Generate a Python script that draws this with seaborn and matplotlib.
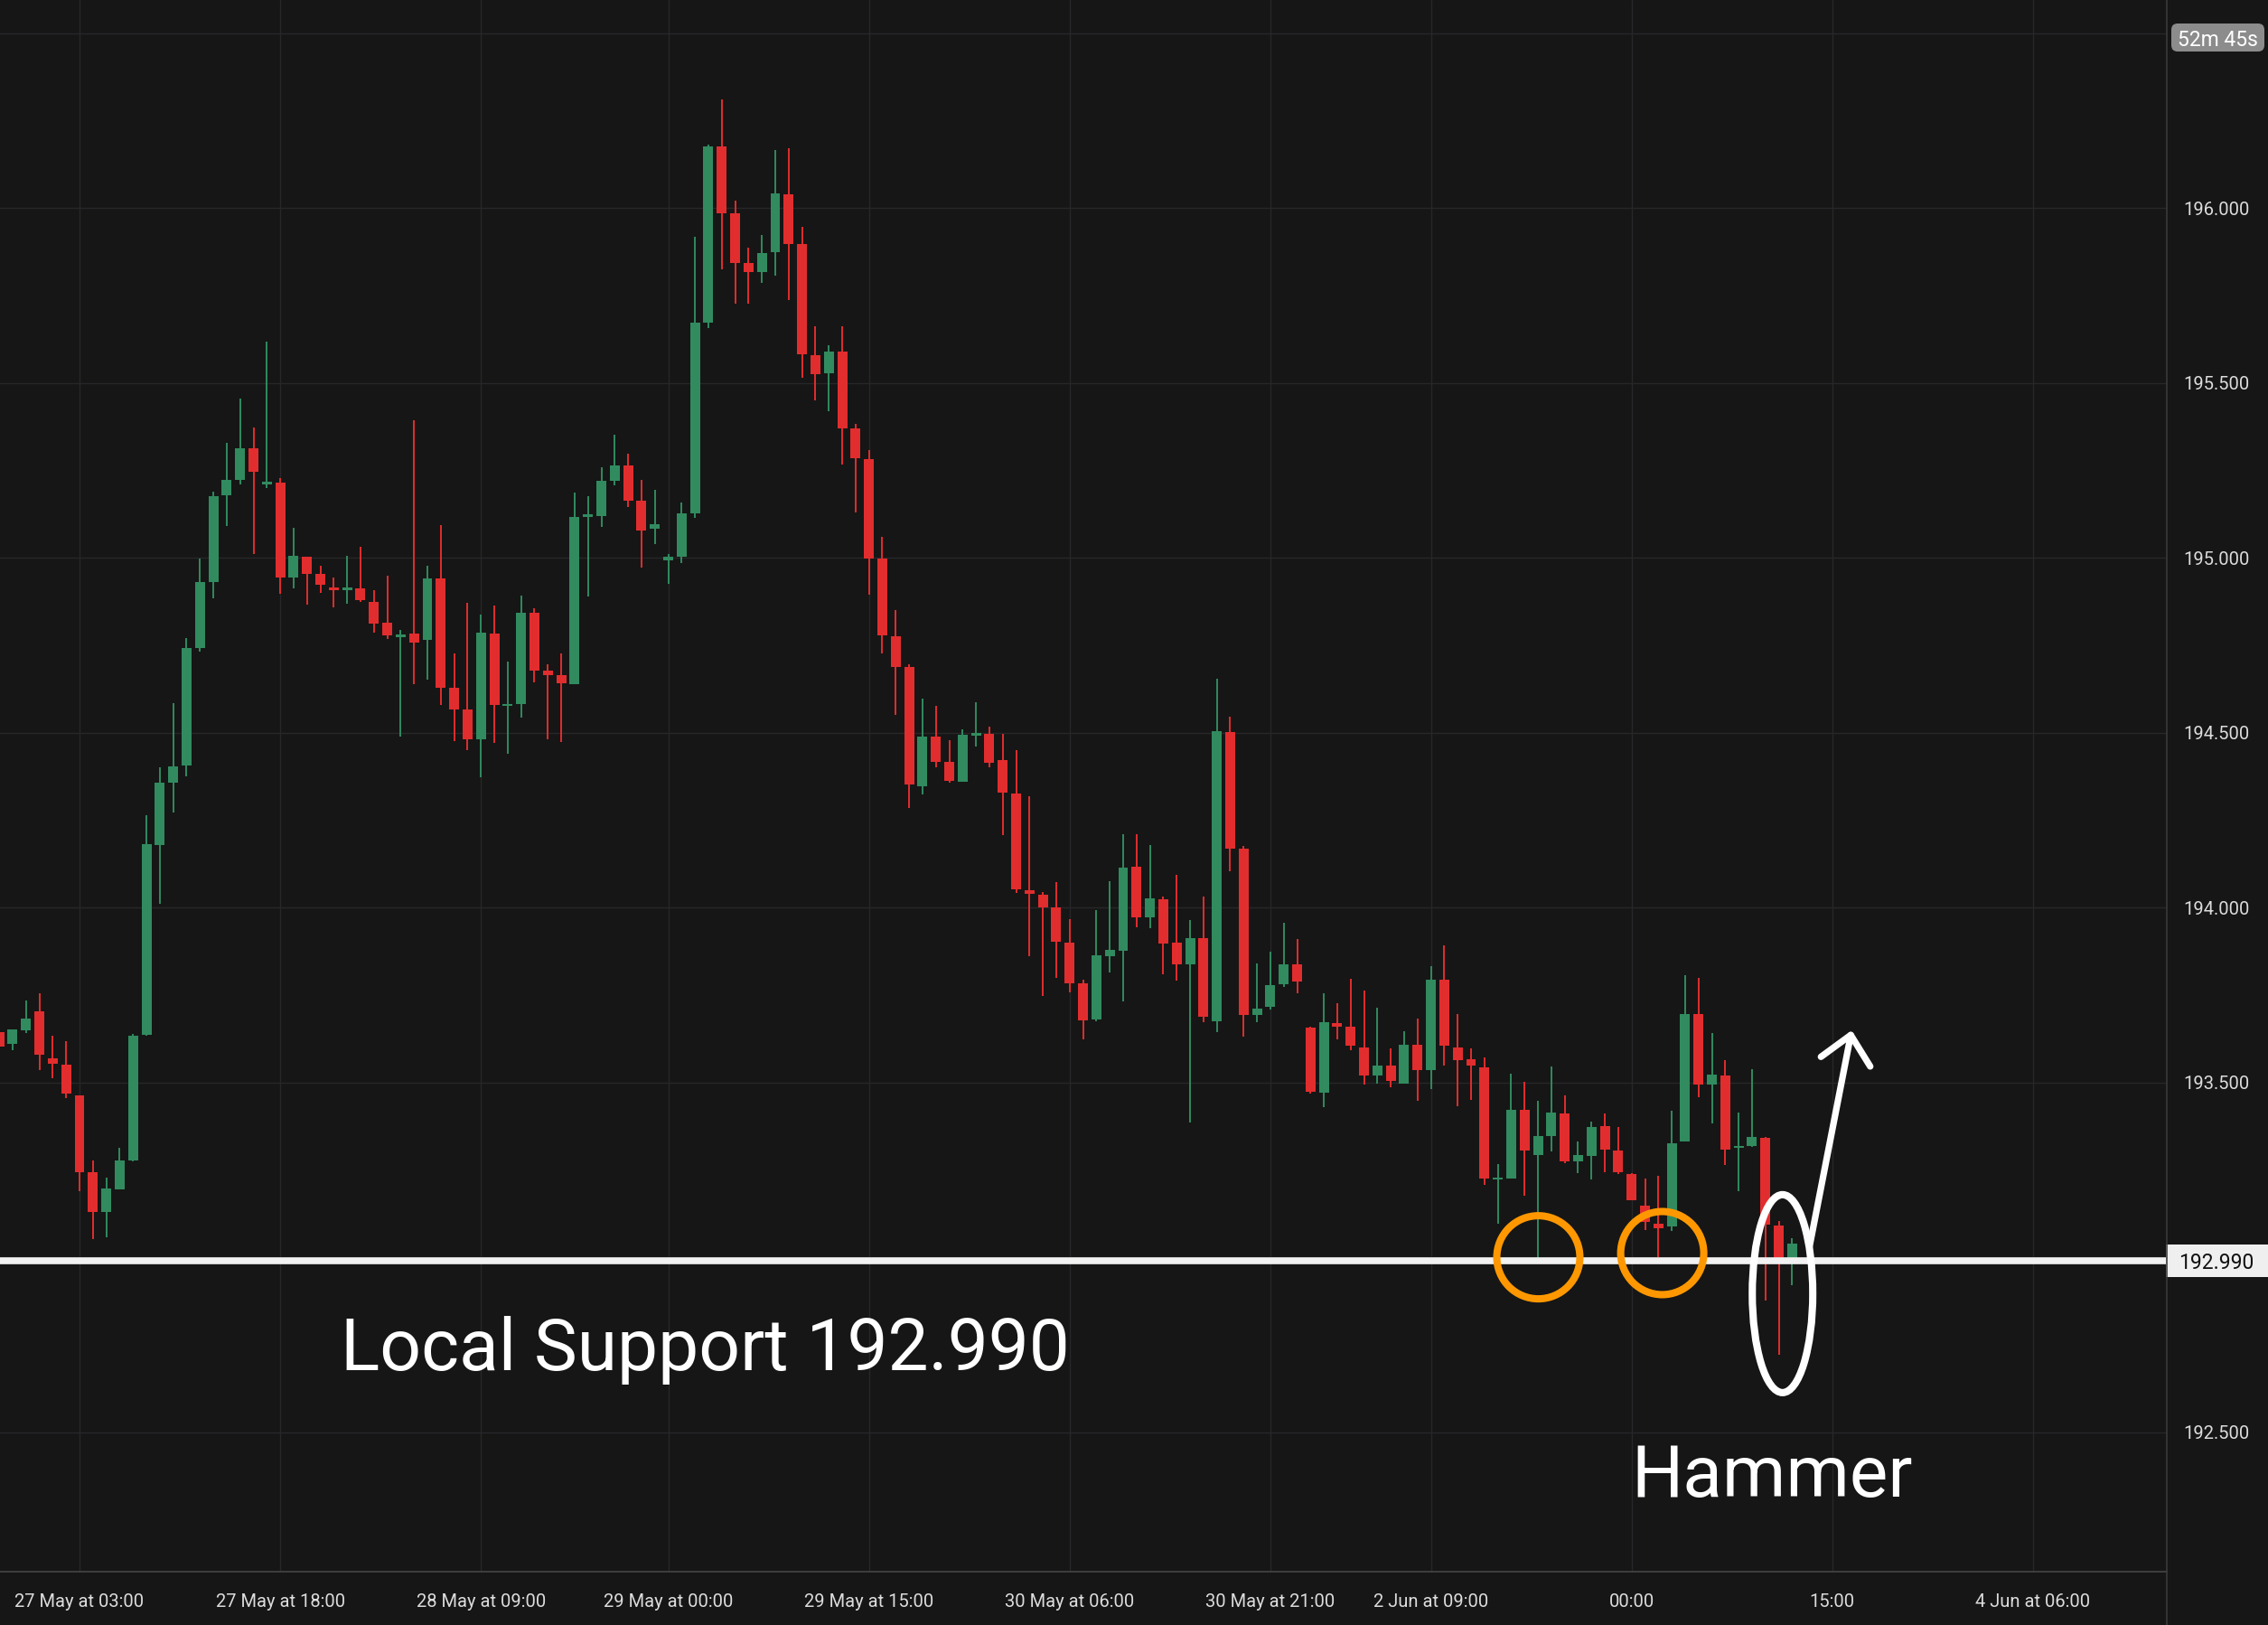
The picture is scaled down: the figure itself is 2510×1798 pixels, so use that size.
import numpy as np
import pandas as pd
import matplotlib.pyplot as plt
import matplotlib.transforms as mtransforms
import seaborn as sns
from matplotlib.patches import Ellipse, FancyBboxPatch, Rectangle
from matplotlib.lines import Line2D

# hourly candles (index 0 = first visible candle)
opens = [193.643, 193.609, 193.648, 193.704, 193.569, 193.552, 193.463, 193.244, 193.129, 193.195,
         193.276, 193.636, 194.180, 194.356, 194.405, 194.742, 194.932, 195.178, 195.223, 195.313,
         195.211, 195.215, 194.943, 195.003, 194.953, 194.915, 194.908, 194.913, 194.874, 194.814,
         194.773, 194.783, 194.766, 194.941, 194.628, 194.566, 194.482, 194.783, 194.576, 194.583,
         194.843, 194.677, 194.665, 194.640, 195.118, 195.120, 195.221, 195.264, 195.163, 195.082,
         194.994, 195.004, 195.128, 195.672, 196.176, 195.985, 195.843, 195.818, 195.874, 196.039,
         195.897, 195.580, 195.527, 195.589, 195.370, 195.283, 194.997, 194.776, 194.688, 194.347,
         194.489, 194.416, 194.360, 194.492, 194.496, 194.422, 194.326, 194.050, 194.037, 194.000,
         193.900, 193.783, 193.681, 193.862, 193.877, 194.117, 193.971, 194.023, 193.900, 193.838,
         193.913, 193.675, 194.502, 194.168, 193.692, 193.715, 193.780, 193.837, 193.657, 193.471,
         193.670, 193.659, 193.600, 193.521, 193.548, 193.497, 193.608, 193.536, 193.794, 193.600,
         193.566, 193.543, 193.222, 193.225, 193.422, 193.293, 193.347, 193.411, 193.275, 193.290,
         193.375, 193.306, 193.238, 193.148, 193.095, 193.089, 193.330, 193.696, 193.495, 193.520,
         193.312, 193.318, 193.342, 193.091, 192.990]
highs = [193.655, 193.652, 193.735, 193.754, 193.633, 193.617, 193.463, 193.276, 193.228, 193.313,
         193.638, 194.265, 194.401, 194.585, 194.770, 194.998, 195.189, 195.329, 195.455, 195.372,
         195.618, 195.228, 195.086, 195.003, 194.977, 194.943, 195.005, 195.031, 194.908, 194.949,
         194.794, 195.393, 194.977, 195.094, 194.727, 194.871, 194.838, 194.864, 194.703, 194.892,
         194.856, 194.696, 194.727, 195.187, 195.176, 195.259, 195.352, 195.298, 195.223, 195.194,
         195.010, 195.158, 195.918, 196.181, 196.311, 196.022, 195.887, 195.923, 196.166, 196.170,
         195.946, 195.662, 195.608, 195.662, 195.383, 195.308, 195.060, 194.850, 194.696, 194.597,
         194.577, 194.478, 194.510, 194.587, 194.517, 194.497, 194.451, 194.319, 194.045, 194.073,
         193.967, 193.794, 193.993, 194.076, 194.210, 194.210, 194.179, 194.031, 194.094, 193.965,
         194.031, 194.654, 194.546, 194.176, 193.840, 193.874, 193.957, 193.910, 193.660, 193.755,
         193.727, 193.796, 193.763, 193.714, 193.597, 193.647, 193.683, 193.833, 193.892, 193.696,
         193.597, 193.572, 193.267, 193.525, 193.502, 193.448, 193.546, 193.463, 193.331, 193.388,
         193.411, 193.373, 193.241, 193.225, 193.233, 193.419, 193.807, 193.799, 193.641, 193.564,
         193.414, 193.538, 193.344, 193.104, 193.055]
lows = [193.600, 193.593, 193.640, 193.534, 193.512, 193.456, 193.188, 193.051, 193.057, 193.195,
        193.273, 193.633, 194.010, 194.273, 194.375, 194.733, 194.884, 195.090, 195.211, 195.012,
        195.199, 194.896, 194.912, 194.865, 194.900, 194.858, 194.868, 194.875, 194.787, 194.769,
        194.490, 194.640, 194.652, 194.580, 194.477, 194.451, 194.373, 194.472, 194.441, 194.544,
        194.645, 194.482, 194.474, 194.640, 194.890, 195.089, 195.208, 195.146, 194.973, 195.038,
        194.926, 194.986, 195.115, 195.658, 195.826, 195.726, 195.726, 195.785, 195.806, 195.737,
        195.515, 195.450, 195.419, 195.266, 195.130, 194.895, 194.727, 194.551, 194.285, 194.324,
        194.400, 194.357, 194.360, 194.460, 194.400, 194.208, 194.043, 193.860, 193.746, 193.800,
        193.758, 193.624, 193.676, 193.815, 193.732, 193.944, 193.942, 193.808, 193.792, 193.386,
        193.671, 193.643, 194.104, 193.632, 193.671, 193.709, 193.772, 193.754, 193.469, 193.430,
        193.624, 193.591, 193.495, 193.497, 193.487, 193.497, 193.448, 193.482, 193.547, 193.433,
        193.451, 193.206, 193.097, 193.225, 193.175, 192.990, 193.303, 193.268, 193.241, 193.223,
        193.243, 193.239, 193.164, 193.079, 193.001, 193.076, 193.330, 193.459, 193.384, 193.265,
        193.190, 193.316, 192.876, 192.720, 192.919]
closes = [193.602, 193.652, 193.683, 193.578, 193.553, 193.467, 193.242, 193.129, 193.197, 193.276,
          193.633, 194.181, 194.356, 194.403, 194.742, 194.932, 195.176, 195.223, 195.313, 195.246,
          195.215, 194.943, 195.005, 194.953, 194.922, 194.908, 194.913, 194.879, 194.813, 194.779,
          194.780, 194.758, 194.941, 194.628, 194.567, 194.482, 194.786, 194.578, 194.578, 194.843,
          194.678, 194.665, 194.642, 195.117, 195.120, 195.220, 195.264, 195.164, 195.079, 195.096,
          195.003, 195.127, 195.672, 196.176, 195.985, 195.842, 195.816, 195.872, 196.042, 195.897,
          195.583, 195.524, 195.589, 195.370, 195.284, 194.997, 194.777, 194.689, 194.353, 194.489,
          194.416, 194.362, 194.493, 194.500, 194.415, 194.329, 194.051, 194.040, 194.001, 193.901,
          193.784, 193.678, 193.863, 193.879, 194.114, 193.971, 194.026, 193.898, 193.837, 193.913,
          193.689, 194.505, 194.169, 193.692, 193.711, 193.779, 193.837, 193.789, 193.472, 193.672,
          193.660, 193.604, 193.521, 193.548, 193.503, 193.608, 193.536, 193.794, 193.604, 193.564,
          193.547, 193.224, 193.226, 193.422, 193.304, 193.347, 193.414, 193.273, 193.293, 193.373,
          193.309, 193.242, 193.164, 193.100, 193.084, 193.326, 193.696, 193.495, 193.522, 193.309,
          193.318, 193.344, 193.094, 192.995, 193.039]

tick_pos = [6, 21, 36, 50, 65, 80, 95, 107, 122, 137, 152]
tick_labels = ['27 May at 03:00', '27 May at 18:00', '28 May at 09:00', '29 May at 00:00',
               '29 May at 15:00', '30 May at 06:00', '30 May at 21:00', '2 Jun at 09:00',
               '00:00', '15:00', '4 Jun at 06:00']
price_ticks = [192.5, 193.0, 193.5, 194.0, 194.5, 195.0, 195.5, 196.0, 196.5]
hidden_prices = [193.0, 196.5]

support = 192.990
touch_x = [115.03, 124.29]
touch_y = [193.000, 193.012]

bg = '#161616'
grid_c = '#27272a'
up_c = '#318b5f'
down_c = '#e22d2e'

df = pd.DataFrame({'open': opens, 'high': highs, 'low': lows, 'close': closes})
df['idx'] = np.arange(len(df))
df['color'] = np.where(df['close'] >= df['open'], up_c, down_c)
df['body_lo'] = df[['open', 'close']].min(axis=1)
df['body_h'] = (df['open'] - df['close']).abs().clip(lower=0.006)

sns.set_theme(style='dark', rc={'axes.facecolor': bg, 'figure.facecolor': bg,
                                'grid.color': grid_c, 'axes.edgecolor': '#4a4a4a'})
plt.rcParams['font.family'] = ['Roboto', 'DejaVu Sans']

fig = plt.figure(figsize=(25.1, 17.98), dpi=100)
ax = fig.add_axes([0, 59 / 1798, 2398 / 2510, 1739 / 1798])

# candles
ax.vlines(df['idx'], df['low'], df['high'], colors=df['color'], linewidth=1.4, zorder=2)
ax.bar(df['idx'], df['body_h'], bottom=df['body_lo'], width=0.74, color=df['color'],
       linewidth=0, zorder=3)

ax.set_xlim(0.057, 162.0)
ax.set_ylim(192.101, 196.595)

ax.set_xticks(tick_pos)
ax.set_xticklabels(tick_labels)
ax.set_yticks(price_ticks)
ax.set_yticklabels(['' if p in hidden_prices else f'{p:.3f}' for p in price_ticks])
ax.yaxis.tick_right()
ax.grid(True, color=grid_c, linewidth=1.0)
ax.set_axisbelow(True)
ax.tick_params(axis='x', length=0, pad=17, labelsize=14.5, labelcolor='#dcdcdc')
ax.tick_params(axis='y', length=0, pad=13, labelsize=14.5, labelcolor='#dcdcdc')
for side in ['top', 'left', 'right']:
    ax.spines[side].set_visible(False)
ax.spines['bottom'].set_color('#4a4a4a')
ax.spines['bottom'].set_linewidth(1.1)

# price scale border
fig.add_artist(Line2D([2398 / 2510, 2398 / 2510], [0, 1], transform=fig.transFigure,
                      color='#3a3a3a', linewidth=1.2))

# support line and its price tag
ax.axhline(support, color='#f2f2f2', linewidth=5.5, zorder=4)
fig.add_artist(Rectangle((2397 / 2510, (1798 - 1413) / 1798), 113 / 2510, 36 / 1798,
                         transform=fig.transFigure, facecolor='#efefef', edgecolor='none'))
fig.text(2453 / 2510, 1 - 1395 / 1798, f'{support:.3f}', ha='center', va='center_baseline',
         fontsize=16.5, color='#111111')

# countdown tag
fig.add_artist(FancyBboxPatch((24.03, 17.41), 1.03, 0.31, boxstyle='round,pad=0,rounding_size=0.07',
                              transform=fig.dpi_scale_trans, facecolor='#8c8c8c', edgecolor='none'))
fig.text(2454.5 / 2510, 1 - 42 / 1798, '52m 45s', ha='center', va='center_baseline',
         fontsize=16.5, color='white')

# touches of support
sns.scatterplot(x=touch_x, y=touch_y, s=4385, marker='o', color='none', edgecolor='#ff9800',
                linewidth=5.8, ax=ax, zorder=5, legend=False)

# hammer highlight + arrow
ax.add_patch(Ellipse((133.28, 192.896), width=4.52, height=0.566, fill=False,
                     edgecolor='white', linewidth=5.8, zorder=5))
ax.annotate('', xy=(138.45, 193.649), xytext=(135.31, 193.033),
            arrowprops=dict(arrowstyle='->,head_length=0.54,head_width=0.5', color='white',
                            lw=5.2, mutation_scale=40, shrinkA=0, shrinkB=0), zorder=5)

ax.text(25.54, 192.678, 'Local Support 192.990', ha='left', va='baseline',
        fontsize=57.8, color='white', zorder=6)
ax.text(122.0, 192.316, 'Hammer', ha='left', va='baseline',
        fontsize=57.8, color='white', zorder=6)

fig.savefig('out.png', dpi=100, facecolor=bg)
